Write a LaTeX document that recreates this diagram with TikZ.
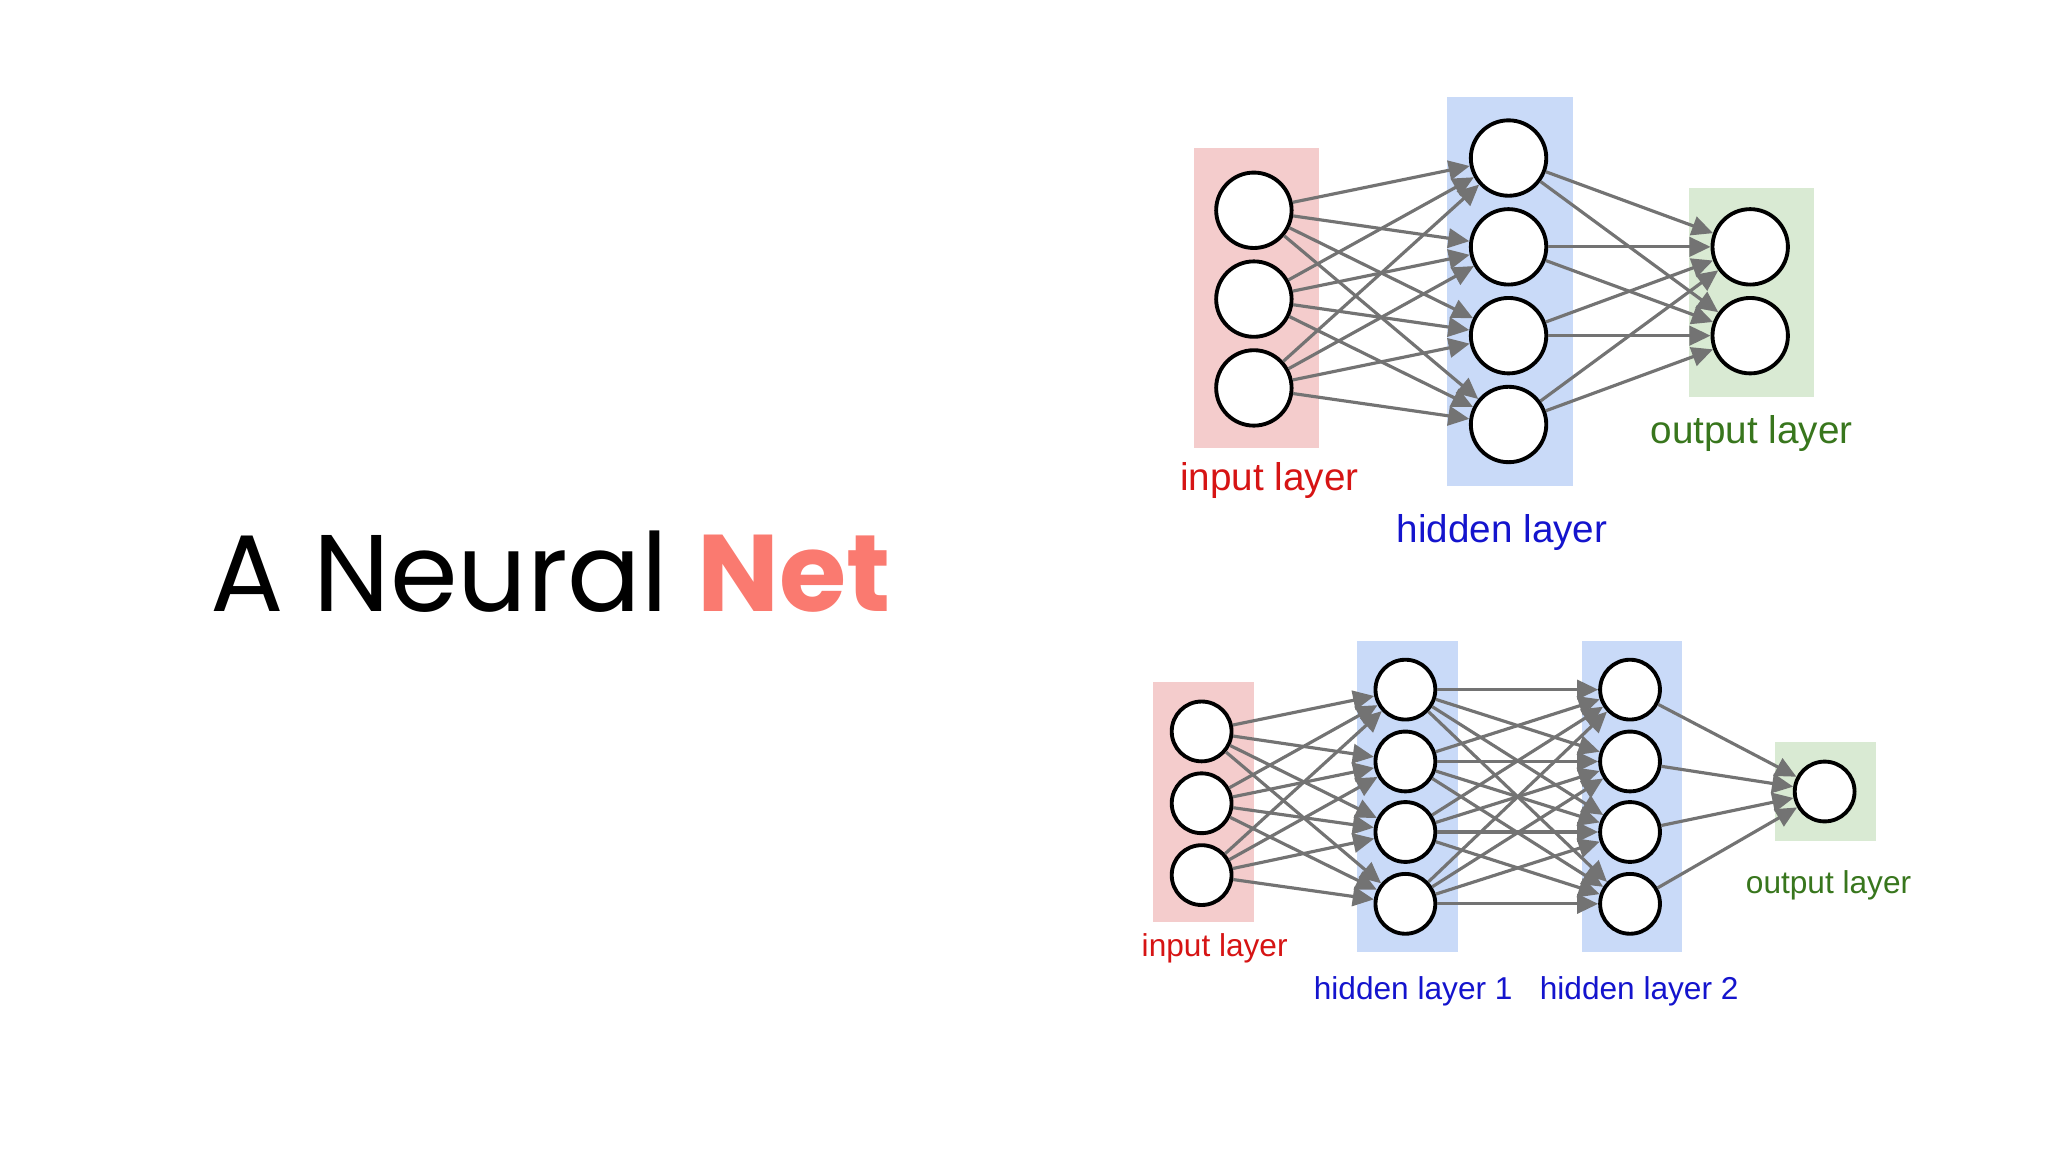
\documentclass[tikz,border=0pt]{standalone}
\usepackage{fontspec}
\setmainfont{Liberation Sans}
\newfontfamily\titlefont{Poppins}
\usetikzlibrary{arrows.meta,positioning}
\definecolor{inbox}{RGB}{244,204,204}
\definecolor{hidbox}{RGB}{201,218,248}
\definecolor{outbox}{RGB}{217,234,211}
\definecolor{inlab}{RGB}{214,20,20}
\definecolor{hidlab}{RGB}{20,20,205}
\definecolor{outlab}{RGB}{56,118,29}
\definecolor{netred}{RGB}{250,122,112}
\tikzset{
  neuron/.style={circle,draw=black,line width=1.1pt,fill=white,minimum size=#1,inner sep=0pt},
  link/.style={draw=gray!90!black,line width=0.9pt,-{Triangle[length=6pt,width=5.5pt]}},
  layerlab/.style={font=\fontsize{#1}{#1}\selectfont}
}
\begin{document}
\begin{tikzpicture}[x=0.01306cm,y=-0.01306cm]
\useasboundingbox (0,0) rectangle (1568,882);

% title
\node[anchor=west,font=\titlefont\fontsize{31}{34}\selectfont] (title) at (152,438)
  {A Neural \textcolor{netred}{\bfseries Net}};

% upper net: boxes
\fill[inbox] (914,113) rectangle (1010,343);
\fill[hidbox] (1108,74) rectangle (1204,372);
\fill[outbox] (1293,144) rectangle (1389,304);

% upper net: neurons
\foreach \i/\y in {1/161,2/229,3/297}
  \node[neuron=58pt*0.37] (ai\i) at (960,\y) {};
\foreach \i/\y in {1/121,2/189,3/257,4/325}
  \node[neuron=58pt*0.37] (ah\i) at (1155,\y) {};
\foreach \i/\y in {1/189,2/257}
  \node[neuron=58pt*0.37] (ao\i) at (1340,\y) {};

% upper net: links
\foreach \i in {1,2,3}
  \foreach \j in {1,2,3,4}
    \draw[link] (ai\i) -- (ah\j);
\foreach \j in {1,2,3,4}
  \foreach \k in {1,2}
    \draw[link] (ah\j) -- (ao\k);

% upper net: labels
\node[layerlab=11,text=inlab] (ailab) at (972,368) {input layer};
\node[layerlab=11,text=hidlab] (ahlab) at (1150,408) {hidden layer};
\node[layerlab=11,text=outlab] (aolab) at (1341,332) {output layer};

% lower net: boxes
\fill[inbox] (883,522) rectangle (960,706);
\fill[hidbox] (1039,491) rectangle (1116,729);
\fill[hidbox] (1211,491) rectangle (1288,729);
\fill[outbox] (1359,568) rectangle (1436,644);

% lower net: neurons
\foreach \i/\y in {1/560,2/615,3/670}
  \node[neuron=46pt*0.37] (bi\i) at (920,\y) {};
\foreach \i/\y in {1/528,2/583,3/637,4/692}{
  \node[neuron=46pt*0.37] (bh\i) at (1076,\y) {};
  \node[neuron=46pt*0.37] (bg\i) at (1248,\y) {};
}
\node[neuron=46pt*0.37] (bo1) at (1397,606) {};

% lower net: links
\foreach \i in {1,2,3}
  \foreach \j in {1,2,3,4}
    \draw[link] (bi\i) -- (bh\j);
\foreach \j in {1,2,3,4}
  \foreach \k in {1,2,3,4}
    \draw[link] (bh\j) -- (bg\k);
\foreach \k in {1,2,3,4}
  \draw[link] (bg\k) -- (bo1);

% lower net: labels
\node[layerlab=9,text=inlab] (bilab) at (930,726) {input layer};
\node[layerlab=9,text=hidlab] (bhlab) at (1082,759) {hidden layer 1};
\node[layerlab=9,text=hidlab] (bglab) at (1255,759) {hidden layer 2};
\node[layerlab=9,text=outlab] (bolab) at (1400,678) {output layer};
\end{tikzpicture}
\end{document}
